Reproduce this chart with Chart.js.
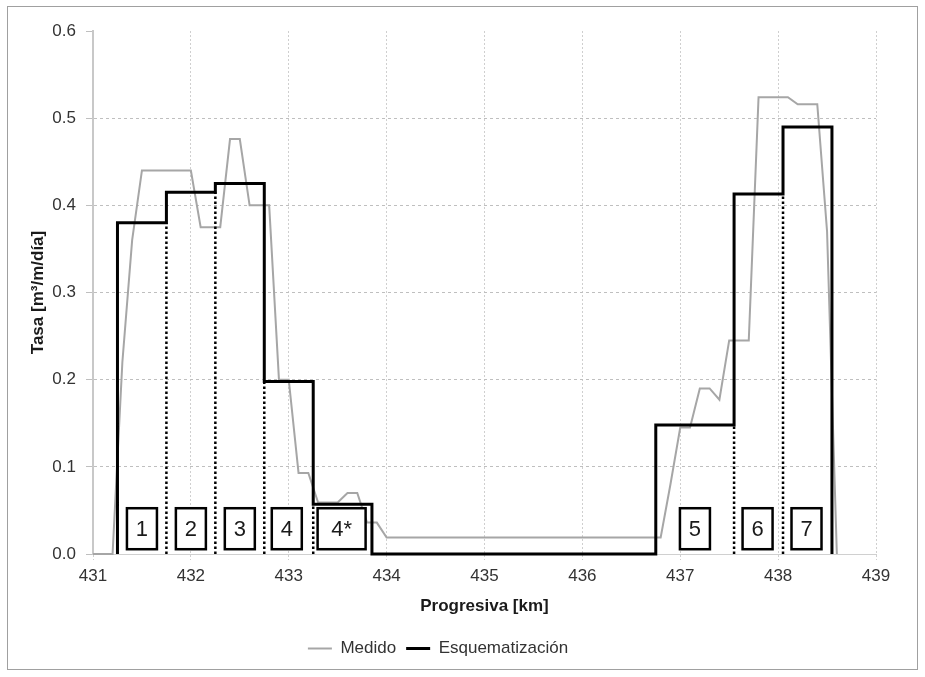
<!DOCTYPE html>
<html><head><meta charset="utf-8">
<script src="https://cdn.jsdelivr.net/npm/chart.js@4/dist/chart.umd.min.js"></script>
<style>html,body{margin:0;padding:0;background:#fff}#wrap{width:925px;height:677px;position:relative}</style>
</head><body><div id="wrap"><canvas id="c" width="925" height="677"></canvas></div>
<script>
// ---- data ----
const medidoKm   = [431.0, 431.2, 431.3, 431.4, 431.5, 432.0, 432.1, 432.3, 432.4, 432.5, 432.6, 432.8, 432.9, 433.0, 433.1, 433.2, 433.3, 433.5, 433.6, 433.7, 433.8, 433.9, 434.0, 436.8, 436.9, 437.0, 437.1, 437.2, 437.3, 437.4, 437.5, 437.7, 437.8, 438.1, 438.2, 438.4, 438.5, 438.6];
const medidoTasa = [0, 0, 0.22, 0.36, 0.44, 0.44, 0.375, 0.375, 0.476, 0.476, 0.40, 0.40, 0.20, 0.20, 0.093, 0.093, 0.059, 0.059, 0.07, 0.07, 0.036, 0.036, 0.019, 0.019, 0.08, 0.145, 0.145, 0.19, 0.19, 0.177, 0.245, 0.245, 0.524, 0.524, 0.516, 0.516, 0.37, 0];
const esqKm   = [431.25, 431.25, 431.75, 432.25, 432.75, 433.25, 433.85, 436.75, 437.55, 438.05, 438.55];
const esqTasa = [0, 0.38, 0.415, 0.425, 0.198, 0.057, 0, 0.148, 0.413, 0.49, 0];
const sepKm  = [431.75, 432.25, 432.75, 433.25, 437.55, 438.05];
const sepTop = [0.38, 0.415, 0.198, 0.057, 0.148, 0.413];
const tramoLabels = ['1', '2', '3', '4', '4*', '5', '6', '7'];
const tramoKm     = [431.5, 432.0, 432.5, 432.98, 433.54, 437.15, 437.79, 438.29];
const tramoTasa   = 0.029;
const xTickLabels = ['431', '432', '433', '434', '435', '436', '437', '438', '439'];
const yTickLabels = ['0.0', '0.1', '0.2', '0.3', '0.4', '0.5', '0.6'];
const seriesNames = ['Medido', 'Esquematización'];

// ---- chart ----
const FONT = "'Liberation Sans', Arial, sans-serif";
const datasets = [
  { label: seriesNames[0], data: medidoKm.map((k, i) => ({x: k, y: medidoTasa[i]})),
    borderColor: '#a6a6a6', backgroundColor: '#a6a6a6', borderWidth: 2, pointRadius: 0,
    tension: 0, order: 2, clip: false, pointStyle: 'line' },
  { label: seriesNames[1], data: esqKm.map((k, i) => ({x: k, y: esqTasa[i]})),
    borderColor: '#000', backgroundColor: '#000', borderWidth: 3, pointRadius: 0,
    stepped: 'before', order: 0, clip: false, pointStyle: 'line' }
];
sepKm.forEach((k, i) => datasets.push({
  label: 'sep' + i, data: [{x: k, y: 0}, {x: k, y: sepTop[i]}],
  borderColor: '#000', borderWidth: 2.5, borderDash: [2.5, 2.5], pointRadius: 0, order: 1, clip: false
}));

const boxPlugin = {
  id: 'tramos',
  beforeDraw(chart) {
    const c = chart.ctx;
    c.save();
    c.fillStyle = '#fff';
    c.fillRect(0, 0, chart.width, chart.height);
    c.strokeStyle = '#a0a0a0';
    c.lineWidth = 1;
    c.strokeRect(7.5, 6.5, 910, 663);
    c.restore();
  },
  afterDatasetsDraw(chart) {
    const c = chart.ctx, xs = chart.scales.x, ys = chart.scales.y;
    c.save();
    tramoLabels.forEach((t, i) => {
      const px = xs.getPixelForValue(tramoKm[i]);
      const py = ys.getPixelForValue(tramoTasa);
      const w = t.length > 1 ? 48 : 30, h = 41;
      c.fillStyle = '#fff';
      c.fillRect(px - w / 2, py - h / 2, w, h);
      c.strokeStyle = '#000';
      c.lineWidth = 2.5;
      c.strokeRect(px - w / 2, py - h / 2, w, h);
      c.fillStyle = '#1a1a1a';
      c.font = "22px " + FONT;
      c.textAlign = 'center';
      c.textBaseline = 'middle';
      c.fillText(t, px, py + 1);
    });
    c.restore();
  }
};

new Chart(document.getElementById('c'), {
  type: 'line',
  data: { datasets },
  plugins: [boxPlugin],
  options: {
    responsive: false, animation: false, devicePixelRatio: 1,
    layout: { padding: { left: 0, right: 49, top: 31, bottom: 10 } },
    plugins: {
      tooltip: { enabled: false },
      legend: {
        position: 'bottom',
        labels: {
          filter: (item) => item.datasetIndex < 2,
          sort: (a, b) => a.datasetIndex - b.datasetIndex,
          usePointStyle: true, pointStyleWidth: 24, padding: 10,
          color: '#333', font: { family: FONT, size: 17 }
        }
      }
    },
    scales: {
      x: {
        type: 'linear', min: 431, max: 439,
        afterFit: (s) => { s.height = 76; },
        ticks: { stepSize: 1, padding: 6, color: '#333', font: { family: FONT, size: 17 },
                 callback: (v, i) => xTickLabels[i], maxRotation: 0 },
        grid: { color: '#cfcfcf', lineWidth: 1, tickLength: 6, tickColor: '#cfcfcf', tickBorderDash: [2, 2] },
        border: { display: true, color: '#d0d0d0', width: 1, dash: [2, 2] },
        title: { display: true, text: 'Progresiva [km]', color: '#1a1a1a',
                 font: { family: FONT, size: 17, weight: 'bold' }, padding: { top: 4, bottom: 13 } }
      },
      y: {
        min: 0, max: 0.6,
        afterFit: (s) => { s.width = 93; },
        ticks: { stepSize: 0.1, padding: 10, color: '#333', font: { family: FONT, size: 17 },
                 callback: (v, i) => yTickLabels[i] },
        grid: { color: (ctx) => (ctx.tick && ctx.tick.value > 0.59) ? 'rgba(0,0,0,0)' : '#bfbfbf',
                lineWidth: 1, tickLength: 7, tickColor: '#bfbfbf', tickBorderDash: [] },
        border: { display: true, color: '#c8c8c8', width: 2, dash: [3, 3] },
        title: { display: true, text: 'Tasa [m³/m/día]', color: '#1a1a1a',
                 font: { family: FONT, size: 17, weight: 'bold' }, padding: { top: 28, bottom: 0 } }
      }
    }
  }
});
</script></body></html>
